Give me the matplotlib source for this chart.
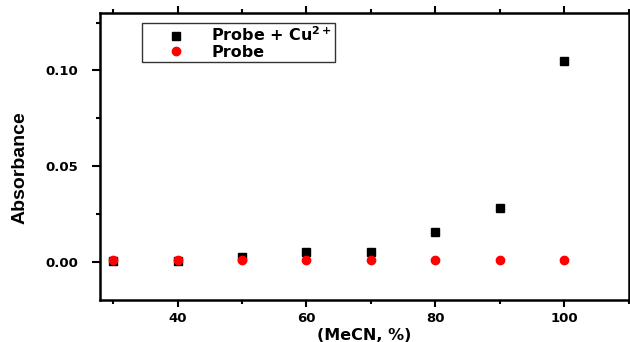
import numpy as np
import matplotlib.pyplot as plt
from matplotlib.ticker import MultipleLocator

mecn = [30, 40, 50, 60, 70, 80, 90, 100]
probe_cu = [0.0005, 0.0005, 0.0026, 0.0049, 0.0049, 0.0153, 0.0281, 0.105]
probe = [0.0008, 0.0008, 0.0008, 0.0008, 0.0008, 0.0008, 0.0008, 0.0008]

plt.rcParams['font.family'] = ['DejaVu Sans']
plt.rcParams['font.weight'] = 'bold'
plt.rcParams['mathtext.default'] = 'bf'

fig = plt.figure(figsize=(6.3, 3.42), dpi=100)
ax = fig.add_axes([0.159, 0.123, 0.839, 0.839])

ax.plot(mecn, probe_cu, 's', color='black', markersize=6, label='Probe + Cu$^{2+}$')
ax.plot(mecn, probe, 'o', color='red', markersize=6, label='Probe')

ax.set_xlim(28, 110)
ax.set_ylim(-0.02, 0.13)
ax.xaxis.set_major_locator(MultipleLocator(20))
ax.xaxis.set_minor_locator(MultipleLocator(10))
ax.yaxis.set_major_locator(MultipleLocator(0.05))
ax.yaxis.set_minor_locator(MultipleLocator(0.025))
ax.yaxis.set_major_formatter(plt.FormatStrFormatter('%.2f'))

ax.tick_params(which='both', direction='out', width=1.5, labelsize=9.5, top=True, right=False)
ax.tick_params(which='major', length=5)
ax.tick_params(which='minor', length=3)
ax.tick_params(axis='y', which='major', length=6, pad=10)
for s in ax.spines.values():
    s.set_linewidth(1.8)

ax.set_xlabel('(MeCN, %)', fontsize=11.5, fontweight='bold', labelpad=2)
ax.set_ylabel('Absorbance', fontsize=14, fontweight='bold',
              family=['Liberation Sans'])
ax.yaxis.set_label_coords(-0.136, 0.46)

leg = ax.legend(loc='upper left', bbox_to_anchor=(0.079, 0.965), fontsize=11.5,
                frameon=True, fancybox=False, edgecolor='black', handletextpad=0.2,
                borderpad=0.15, labelspacing=0.05, handlelength=4.0, borderaxespad=0)
leg.get_frame().set_linewidth(1.0)

fig.savefig('out.png', dpi=100)
